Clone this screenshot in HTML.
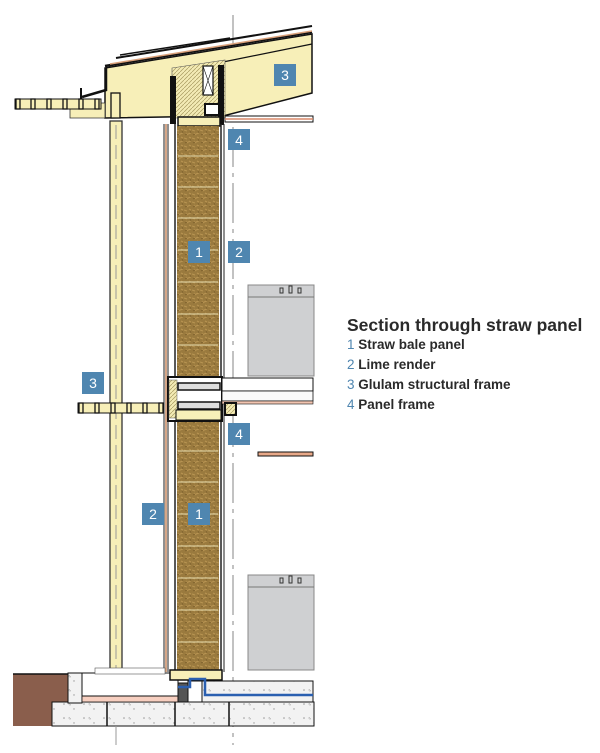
<!DOCTYPE html>
<html><head><meta charset="utf-8"><style>
html,body{margin:0;padding:0;background:#fff;width:600px;height:753px;overflow:hidden}
svg{display:block}
.t{font-family:"Liberation Sans",sans-serif}
</style></head><body>
<svg width="600" height="753" viewBox="0 0 600 753" xmlns="http://www.w3.org/2000/svg">
<defs>
<pattern id="straw" width="8" height="8" patternUnits="userSpaceOnUse">
<rect width="8" height="8" fill="#9a7a3e"/>
<path d="M0 2l3 1M4 6l3-1M2 5l2 2M5 1l2 1" stroke="#b89452" stroke-width="1"/>
<path d="M1 7l2-1M6 3l1 2" stroke="#7c5f2c" stroke-width="0.8"/>
</pattern>
<pattern id="ins" width="4" height="4" patternUnits="userSpaceOnUse">
<rect width="4" height="4" fill="#f3ebb5"/>
<path d="M0 4L4 0" stroke="#a89a60" stroke-width="0.7"/>
</pattern>
<pattern id="conc" width="20" height="14" patternUnits="userSpaceOnUse">
<rect width="20" height="14" fill="#f2f2f2"/>
<circle cx="4" cy="4" r="0.8" fill="#999"/><circle cx="14" cy="9" r="0.7" fill="#999"/><path d="M9 3l2 2h-2z" fill="none" stroke="#aaa" stroke-width="0.5"/>
</pattern>
</defs>

<line x1="233" y1="15" x2="233" y2="745" stroke="#999" stroke-width="1.2" stroke-dasharray="40 6 4 6"/>

<polygon points="105,68 312,34 312,93 223,116 105,118" fill="#f7efb8" stroke="#111" stroke-width="1.5"/>
<polygon points="70,103 105,103 105,118 70,118" fill="#f7efb8" stroke="#333" stroke-width="0.8"/>
<polyline points="105,66 312,32" stroke="#111" stroke-width="2.5" fill="none"/>
<polyline points="110,64 312,31" stroke="#d9a07a" stroke-width="1.5" fill="none"/>
<polyline points="116,58 312,26" stroke="#111" stroke-width="2" fill="none"/>
<polyline points="120,55 230,38" stroke="#111" stroke-width="1.5" fill="none"/>
<polyline points="223,62 312,44" stroke="#111" stroke-width="1.2" fill="none"/>
<polyline points="82,97 106,90 106,68" stroke="#111" stroke-width="2.5" fill="none"/>
<line x1="81" y1="88" x2="81" y2="100" stroke="#111" stroke-width="2"/>
<rect x="111" y="93" width="9" height="25" fill="#f7efb8" stroke="#111" stroke-width="1.3"/>
<polygon points="172,68 225,60 225,118 172,118" fill="url(#ins)" stroke="#555" stroke-width="0.6"/>
<rect x="170" y="76" width="6" height="48" fill="#111"/>
<rect x="203" y="66" width="10" height="29" fill="#fff" stroke="#111" stroke-width="1.2"/>
<path d="M203 66l10 29M213 66l-10 29" stroke="#111" stroke-width="0.6"/>
<rect x="205" y="104" width="15" height="11" fill="#fff" stroke="#111" stroke-width="2"/>
<rect x="218" y="65" width="6" height="60" fill="#111"/>
<rect x="178" y="117" width="42" height="9" fill="#f7efb8" stroke="#111" stroke-width="1.5"/>
<rect x="225" y="116" width="88" height="6" fill="#fff" stroke="#111" stroke-width="1"/>
<line x1="225" y1="119" x2="313" y2="119" stroke="#d9886a" stroke-width="1.5"/>
<rect x="15" y="99" width="86" height="10" fill="#f7efb8" stroke="#111" stroke-width="1"/>
<g fill="#f7efb8" stroke="#111" stroke-width="1.3">
<rect x="16" y="99" width="4" height="10"/><rect x="31" y="99" width="4" height="10"/><rect x="47" y="99" width="4" height="10"/><rect x="63" y="99" width="4" height="10"/><rect x="79" y="99" width="4" height="10"/><rect x="95" y="99" width="4" height="10"/>
</g>

<rect x="110" y="121" width="12" height="552" fill="#f7efb8" stroke="#333" stroke-width="1.3"/>
<line x1="116" y1="125" x2="116" y2="670" stroke="#999" stroke-width="1" stroke-dasharray="14 6"/>

<g stroke-width="1">
<line x1="164" y1="124" x2="164" y2="672" stroke="#222"/>
<line x1="166" y1="124" x2="166" y2="672" stroke="#c88a60" stroke-width="1.5"/>
<line x1="168" y1="124" x2="168" y2="672" stroke="#222"/>
<line x1="175" y1="124" x2="175" y2="672" stroke="#222" stroke-width="1.5"/>
<line x1="221" y1="124" x2="221" y2="672" stroke="#222" stroke-width="1.5"/>
<line x1="224" y1="124" x2="224" y2="672" stroke="#222"/>
</g>

<rect x="177" y="126" width="42" height="252" fill="url(#straw)"/>
<g stroke="#e6dcae" stroke-width="1">
<line x1="178" y1="156" x2="218" y2="156"/><line x1="178" y1="187" x2="218" y2="187"/><line x1="178" y1="218" x2="218" y2="218"/><line x1="178" y1="250" x2="218" y2="250"/><line x1="178" y1="282" x2="218" y2="282"/><line x1="178" y1="314" x2="218" y2="314"/><line x1="178" y1="345" x2="218" y2="345"/>
</g>
<rect x="177" y="421" width="42" height="249" fill="url(#straw)"/>
<g stroke="#e6dcae" stroke-width="1">
<line x1="178" y1="451" x2="218" y2="451"/><line x1="178" y1="482" x2="218" y2="482"/><line x1="178" y1="514" x2="218" y2="514"/><line x1="178" y1="546" x2="218" y2="546"/><line x1="178" y1="578" x2="218" y2="578"/><line x1="178" y1="610" x2="218" y2="610"/><line x1="178" y1="642" x2="218" y2="642"/>
</g>

<rect x="168" y="377" width="54" height="44" fill="#fff" stroke="#111" stroke-width="2"/>
<rect x="169" y="380" width="8" height="38" fill="url(#ins)" stroke="#555" stroke-width="0.5"/>
<rect x="178" y="383" width="42" height="7" fill="#ddd" stroke="#111" stroke-width="1.5"/>
<rect x="178" y="402" width="42" height="7" fill="#ddd" stroke="#111" stroke-width="1.5"/>
<rect x="176" y="410" width="45" height="10" fill="#f7efb8" stroke="#111" stroke-width="1"/>
<rect x="222" y="378" width="91" height="13" fill="#fff" stroke="#111" stroke-width="1"/>
<rect x="222" y="391" width="91" height="10" fill="#fafafa" stroke="#111" stroke-width="0.8"/>
<rect x="222" y="401" width="91" height="3" fill="#f2c4b0" stroke="#111" stroke-width="0.6"/>
<rect x="225" y="403" width="11" height="12" fill="url(#ins)" stroke="#111" stroke-width="2"/>
<rect x="78" y="403" width="85" height="10" fill="#f7efb8" stroke="#111" stroke-width="1"/>
<g fill="#f7efb8" stroke="#111" stroke-width="1.3">
<rect x="79" y="403" width="4" height="10"/><rect x="95" y="403" width="4" height="10"/><rect x="111" y="403" width="4" height="10"/><rect x="127" y="403" width="4" height="10"/><rect x="143" y="403" width="4" height="10"/><rect x="159" y="403" width="4" height="10"/>
</g>
<rect x="258" y="452" width="55" height="4" fill="#e8a888" stroke="#111" stroke-width="1"/>

<g fill="#cfd0d2" stroke="#888" stroke-width="1">
<rect x="248" y="285" width="66" height="91"/>
<rect x="248" y="575" width="66" height="95"/>
</g>
<line x1="248" y1="297" x2="314" y2="297" stroke="#777"/>
<line x1="248" y1="587" x2="314" y2="587" stroke="#777"/>
<g fill="none" stroke="#333" stroke-width="1"><rect x="280" y="288" width="3" height="5"/><rect x="289" y="286" width="3" height="7"/><rect x="298" y="288" width="3" height="5"/>
<rect x="280" y="578" width="3" height="5"/><rect x="289" y="576" width="3" height="7"/><rect x="298" y="578" width="3" height="5"/></g>

<rect x="13" y="674" width="55" height="52" fill="#8a5e4c"/>
<rect x="52" y="702" width="262" height="24" fill="url(#conc)" stroke="#111" stroke-width="1"/>
<line x1="13" y1="674" x2="68" y2="674" stroke="#111" stroke-width="1.5"/>
<rect x="68" y="673" width="14" height="30" fill="url(#conc)" stroke="#111" stroke-width="1"/>
<rect x="82" y="696" width="96" height="6" fill="#f7cfc0" stroke="#111" stroke-width="0.8"/>
<rect x="82" y="673" width="96" height="23" fill="#fff" stroke="#111" stroke-width="1"/>
<rect x="95" y="668" width="70" height="6" fill="#fff" stroke="#555" stroke-width="0.6"/>
<rect x="178" y="683" width="10" height="19" fill="#555" stroke="#111"/>
<rect x="188" y="681" width="14" height="21" fill="#fff" stroke="#111"/>
<rect x="202" y="681" width="111" height="21" fill="url(#conc)" stroke="#111" stroke-width="1"/>
<rect x="170" y="670" width="52" height="10" fill="#f7efb8" stroke="#111" stroke-width="1.5"/>
<polyline points="178,687 190,687 190,679 205,679 205,695 313,695" fill="none" stroke="#2a5fb0" stroke-width="2.5"/>
<g stroke="#111" stroke-width="1.5"><line x1="107" y1="702" x2="107" y2="726"/><line x1="175" y1="702" x2="175" y2="726"/><line x1="229" y1="702" x2="229" y2="726"/></g>
<line x1="116" y1="726" x2="116" y2="745" stroke="#999"/>

<g fill="#4f86b0">
<rect x="274" y="64" width="22" height="22"/><rect x="228" y="129" width="22" height="21"/>
<rect x="188" y="241" width="22" height="22"/><rect x="228" y="241" width="22" height="22"/>
<rect x="82" y="372" width="22" height="22"/><rect x="228" y="423" width="22" height="22"/>
<rect x="142" y="503" width="22" height="22"/><rect x="188" y="503" width="22" height="22"/>
</g>
<g class="t" fill="#fff" font-size="14" text-anchor="middle">
<text x="285" y="80">3</text><text x="239" y="145">4</text>
<text x="199" y="257">1</text><text x="239" y="257">2</text>
<text x="93" y="388">3</text><text x="239" y="439">4</text>
<text x="153" y="519">2</text><text x="199" y="519">1</text>
</g>

<text class="t" x="347" y="331" font-size="17.5" font-weight="bold" fill="#2a2a2a">Section through straw panel</text>
<g class="t" font-size="13.5" font-weight="bold" fill="#2a2a2a">
<text x="347" y="349"><tspan fill="#4f86b0" font-weight="normal">1</tspan> Straw bale panel</text>
<text x="347" y="369"><tspan fill="#4f86b0" font-weight="normal">2</tspan> Lime render</text>
<text x="347" y="389"><tspan fill="#4f86b0" font-weight="normal">3</tspan> Glulam structural frame</text>
<text x="347" y="409"><tspan fill="#4f86b0" font-weight="normal">4</tspan> Panel frame</text>
</g>
</svg>
</body></html>
